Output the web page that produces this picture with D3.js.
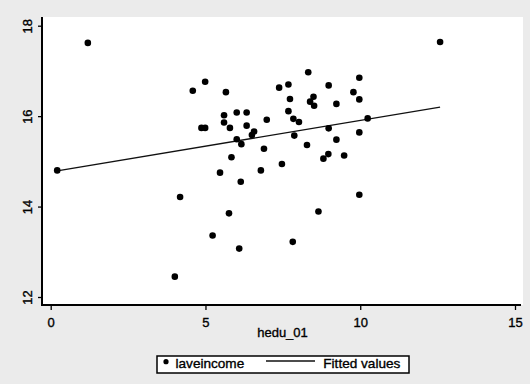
<!DOCTYPE html>
<html>
<head>
<meta charset="utf-8">
<script src="https://cdnjs.cloudflare.com/ajax/libs/d3/7.8.5/d3.min.js"></script>
<style>
    body { margin: 0; background: #ebebeb; }
    svg { display: block; font-family: "Liberation Sans", Arial, sans-serif; }
    text { stroke: #000; stroke-width: 0.35; fill: #000; }
</style>
</head>
<body>
<div class="chart"></div>
<script>
// hedu_01 values (x) and laveincome values (y)
var hedu = [1.2, 12.58, 0.21, 4.99, 4.59, 5.66, 6.01, 6.33, 5.60, 5.60,
    4.87, 4.99, 5.79, 6.33, 6.98, 6.57, 6.50, 6.01, 6.16, 6.89,
    5.84, 5.47, 6.79, 6.14, 4.18, 5.76, 5.23, 6.09, 4.01, 8.32,
    7.38, 7.68, 8.98, 9.97, 7.73, 8.49, 8.38, 8.51, 9.78, 9.97,
    9.23, 7.68, 7.84, 8.02, 10.24, 8.98, 7.87, 8.28, 9.23, 9.97,
    8.97, 8.81, 9.48, 7.47, 9.97, 8.65, 7.82];
var laveincome = [17.62, 17.64, 14.80, 16.76, 16.56, 16.53, 16.08, 16.08, 16.02, 15.86,
    15.74, 15.74, 15.74, 15.79, 15.92, 15.66, 15.58, 15.49, 15.38, 15.28,
    15.09, 14.75, 14.80, 14.55, 14.21, 13.85, 13.36, 13.07, 12.45, 16.97,
    16.63, 16.70, 16.68, 16.85, 16.38, 16.43, 16.32, 16.23, 16.53, 16.37,
    16.27, 16.11, 15.94, 15.87, 15.95, 15.73, 15.57, 15.36, 15.48, 15.64,
    15.16, 15.06, 15.13, 14.94, 14.26, 13.89, 13.22];

// fitted values line end points
var fitX = [0.21, 12.58];
var fitY = [14.79, 16.20];

var xTicks = [0, 5, 10, 15];
var yTicks = [12, 14, 16, 18];
var legendLabels = ['laveincome', 'Fitted values'];

window.onload = function() {
    var width = 530;
    var height = 384;

    var svg = d3.select('.chart').append('svg')
        .attr('width', width)
        .attr('height', height);

    var x = d3.scaleLinear().domain([0, 15]).range([50.7, 515]);
    var y = d3.scaleLinear().domain([12, 18]).range([297, 25.7]);

    // white plot region
    svg.append('rect')
        .attr('x', 42).attr('y', 17)
        .attr('width', 481).attr('height', 288)
        .attr('fill', '#fff');

    var points = hedu.map(function(d, i) { return [d, laveincome[i]]; });

    svg.append('path')
        .datum(fitX.map(function(d, i) { return [d, fitY[i]]; }))
        .attr('fill', 'none')
        .attr('stroke', '#111')
        .attr('stroke-width', 1.3)
        .attr('d', d3.line().x(function(d) { return x(d[0]); }).y(function(d) { return y(d[1]); }));

    svg.selectAll('.dot')
        .data(points)
        .enter().append('circle')
        .attr('class', 'dot')
        .attr('cx', function(d) { return x(d[0]); })
        .attr('cy', function(d) { return y(d[1]); })
        .attr('r', 3.3)
        .attr('fill', '#000');

    // y axis
    var yAxis = svg.append('g')
        .attr('transform', 'translate(42,0)')
        .call(d3.axisLeft(y).tickValues(yTicks).tickFormat(d3.format('d')).tickSize(4).tickSizeOuter(0));
    yAxis.select('.domain').remove();
    yAxis.append('line')
        .attr('x1', 0).attr('x2', 0).attr('y1', 17).attr('y2', 306)
        .attr('stroke', '#000').attr('stroke-width', 2);
    yAxis.selectAll('.tick line').attr('stroke', '#000').attr('stroke-width', 1.3);
    yAxis.selectAll('.tick text')
        .attr('x', null).attr('dy', null)
        .attr('transform', 'translate(-10,0) rotate(-90)')
        .attr('text-anchor', 'middle')
        .attr('font-size', 13)
        .attr('font-family', '"Liberation Sans", Arial, sans-serif')
        .attr('fill', '#000');

    // x axis
    var xAxis = svg.append('g')
        .attr('transform', 'translate(0,305)')
        .call(d3.axisBottom(x).tickValues(xTicks).tickFormat(d3.format('d')).tickSize(5).tickSizeOuter(0));
    xAxis.select('.domain').remove();
    xAxis.append('line')
        .attr('x1', 42).attr('x2', 521).attr('y1', 0).attr('y2', 0)
        .attr('stroke', '#000').attr('stroke-width', 2);
    xAxis.selectAll('.tick line').attr('stroke', '#000').attr('stroke-width', 1.3);
    xAxis.selectAll('.tick text')
        .attr('y', 21.5).attr('dy', null)
        .attr('font-size', 13)
        .attr('font-family', '"Liberation Sans", Arial, sans-serif')
        .attr('fill', '#000');

    svg.append('text')
        .attr('x', 282.5).attr('y', 336.5)
        .attr('text-anchor', 'middle')
        .attr('font-size', 13)
        .text('hedu_01');

    // legend
    var legend = svg.append('g');
    legend.append('rect')
        .attr('x', 157).attr('y', 356)
        .attr('width', 252).attr('height', 17)
        .attr('fill', '#fff')
        .attr('stroke', '#000')
        .attr('stroke-width', 1.5);
    legend.append('circle')
        .attr('cx', 166).attr('cy', 361.7).attr('r', 2.6).attr('fill', '#000');
    legend.append('text')
        .attr('x', 175.5).attr('y', 367.7)
        .attr('font-size', 13.6)
        .text(legendLabels[0]);
    legend.append('line')
        .attr('x1', 266).attr('x2', 315).attr('y1', 361).attr('y2', 361)
        .attr('stroke', '#111').attr('stroke-width', 1.3);
    legend.append('text')
        .attr('x', 323.3).attr('y', 367.7)
        .attr('font-size', 13.6)
        .text(legendLabels[1]);
};
</script>
</body>
</html>
